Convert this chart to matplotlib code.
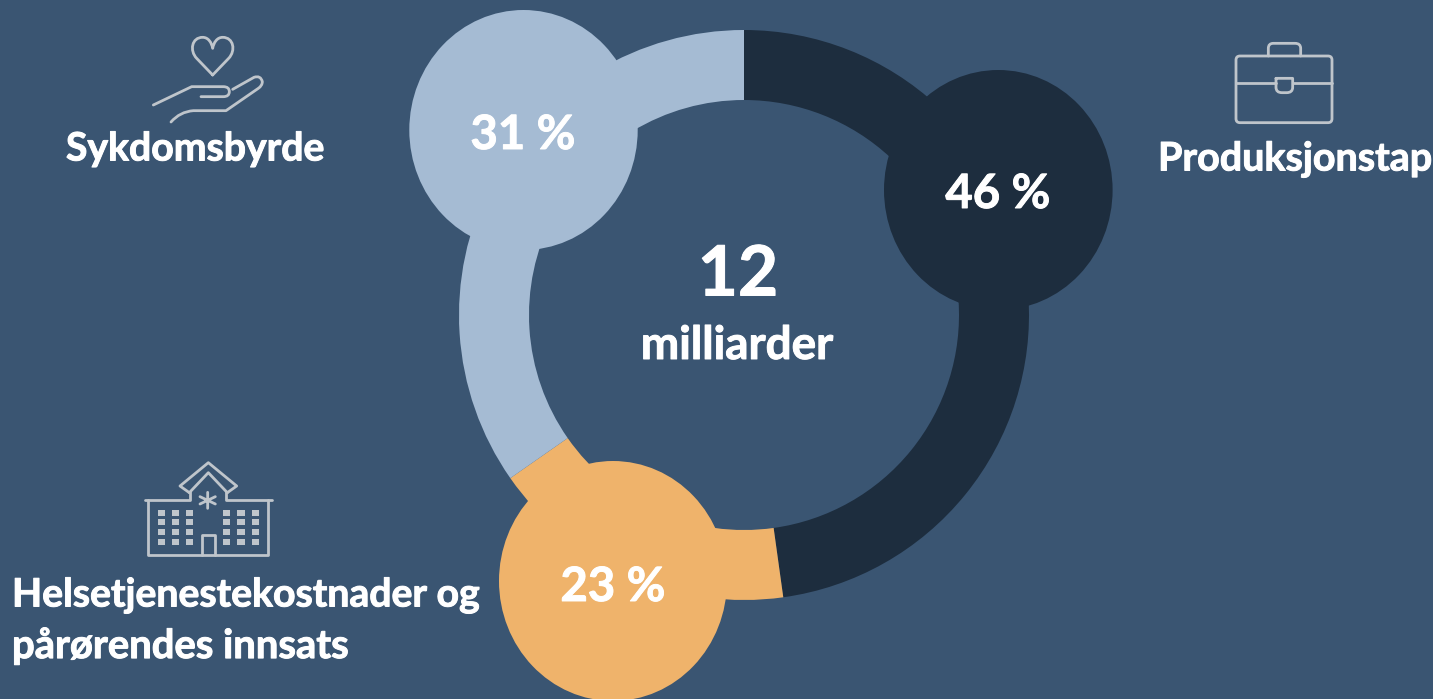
import matplotlib
matplotlib.use("Agg")
import matplotlib.pyplot as plt
import matplotlib.patheffects as pe
from matplotlib.patches import Ellipse, PathPatch, Rectangle, FancyBboxPatch
from matplotlib.path import Path

# andeler slik ringen er tegnet (ikke helt lik tallene i boblene)
kategorier = ["Produksjonstap", "Helsetjenestekostnader og\npårørendes innsats", "Sykdomsbyrde"]
ring_andeler = [47.8, 17.5, 34.7]
etiketter = ["46 %", "23 %", "31 %"]
farger = ["#1D2D3E", "#EFB36B", "#A5BBD3"]

BG = "#3A5572"
IKON = "#BFC5CB"
W, H = 1433, 699


def fy(y):
    return H - y


fig = plt.figure(figsize=(W / 100, H / 100), dpi=100, facecolor=BG)
ax = fig.add_axes([0, 0, 1, 1])
ax.set_facecolor(BG)

# ringen
ax.pie(ring_andeler, colors=farger, startangle=90, counterclock=False,
       center=(744, fy(315)), radius=285, frame=True,
       wedgeprops=dict(width=70, linewidth=0))
ax.set_xlim(0, W)
ax.set_ylim(0, H)
ax.set_aspect("equal")
ax.axis("off")

# boblene er ellipser, litt hoyere enn brede
bobler = [(998.3, 190, 114.3, 120), (613, 581, 114, 120), (523.5, 130, 114.2, 120)]
for (cx, cy, rx, ry), f in zip(bobler, farger):
    ax.add_patch(Ellipse((cx, fy(cy)), 2 * rx, 2 * ry, fc=f, ec="none", zorder=3))

plt.rcParams["font.family"] = ["Lato", "DejaVu Sans"]
# Lato Bold er tynnere enn originalen, litt strek gir riktig tyngde
tykk = [pe.withStroke(linewidth=0.7, foreground="white")]
tekst = dict(color="white", fontweight="bold", zorder=5, path_effects=tykk)
pos = [(998, 194), (613, 587), (523, 135)]
for (x, y), s in zip(pos, etiketter):
    ax.text(x, fy(y), s, ha="center", va="center", fontsize=34, **tekst)
ax.text(738, fy(276), "12", ha="center", va="center", fontsize=50, **tekst)
ax.text(737, fy(346), "milliarder", ha="center", va="center", fontsize=33, **tekst)

ax.text(195, fy(149), kategorier[2], ha="center", va="center", fontsize=28.2, **tekst)
ax.text(1158, fy(159), kategorier[0], ha="left", va="center", fontsize=28.4, **tekst)
linjer = kategorier[1].split("\n")
ax.text(12, fy(595), linjer[0], ha="left", va="center", fontsize=28.2, **tekst)
ax.text(12, fy(646), linjer[1], ha="left", va="center", fontsize=28.8, **tekst)


# ikoner, koordinater lest av i utsnitt (3x) med origo (ox, oy)
def strek(punkter, ox, oy, lw=2.0):
    verts = [(ox + x / 3, fy(oy + y / 3)) for x, y, _ in punkter]
    codes = [c for _, _, c in punkter]
    ax.add_patch(PathPatch(Path(verts, codes), fc="none", ec=IKON, lw=lw,
                           capstyle="round", joinstyle="round", zorder=4))


M, L, C = Path.MOVETO, Path.LINETO, Path.CURVE3
C4 = Path.CURVE4

# hjerte og hand
ox, oy = 130, 20
strek([(248, 165, M), (200, 115, L), (178, 92, C4), (185, 52, C4), (218, 52, C4),
       (235, 52, C4), (245, 68, C4), (248, 85, C4),
       (251, 68, C4), (261, 52, C4), (278, 52, C4),
       (311, 52, C4), (318, 92, C4), (296, 115, C4), (248, 165, L)], ox, oy)
strek([(70, 255, M), (185, 200, L), (280, 200, L), (298, 200, C), (298, 215, C),
       (298, 230, C), (280, 230, C), (213, 230, L)], ox, oy)
strek([(308, 208, M), (372, 172, L), (392, 165, C), (397, 185, C),
       (397, 197, C), (385, 205, C), (288, 272, L), (190, 272, L),
       (150, 275, C), (123, 306, C)], ox, oy)

# sykehus
ox, oy = 130, 450
strek([(178, 128, M), (150, 108, L), (235, 38, L), (320, 108, L), (292, 128, L)], ox, oy)
strek([(178, 128, M), (235, 68, L), (292, 128, L)], ox, oy)
strek([(45, 151, M), (181, 151, L), (181, 125, L)], ox, oy)
strek([(289, 125, M), (289, 151, L), (425, 151, L)], ox, oy)
strek([(55, 151, M), (55, 315, L), (415, 315, L), (415, 151, L)], ox, oy)
strek([(216, 315, M), (216, 255, L), (255, 255, L), (255, 315, L)], ox, oy)
strek([(233, 127, M), (233, 175, L), (210, 140, M), (256, 162, L),
       (256, 140, M), (210, 162, L)], ox, oy)
for wx in [95, 137, 179, 290, 333, 376]:
    for wy in [188, 215, 245, 275]:
        ax.add_patch(Rectangle((ox + (wx - 11) / 3, fy(oy + (wy + 9) / 3)), 22 / 3, 18 / 3,
                               fc=IKON, ec="none", zorder=4))

# koffert
ox, oy = 1220, 30
ax.add_patch(FancyBboxPatch((ox + 60 / 3, fy(oy + 266 / 3)), 264 / 3, 176 / 3,
                            boxstyle="round,pad=4,rounding_size=4",
                            fc="none", ec=IKON, lw=2.0, zorder=4))
strek([(145, 78, M), (145, 55, L), (145, 40, C), (160, 40, C), (225, 40, L),
       (242, 40, C), (242, 55, C), (242, 78, L)], ox, oy)
strek([(48, 160, M), (168, 160, L), (48 + 288, 160, M), (218, 160, L)], ox, oy)
strek([(168, 145, M), (218, 145, L), (218, 172, L), (218, 188, C), (200, 188, C),
       (186, 188, L), (168, 188, C), (168, 172, C), (168, 145, L)], ox, oy)

fig.savefig("out.png", dpi=100, facecolor=BG)
